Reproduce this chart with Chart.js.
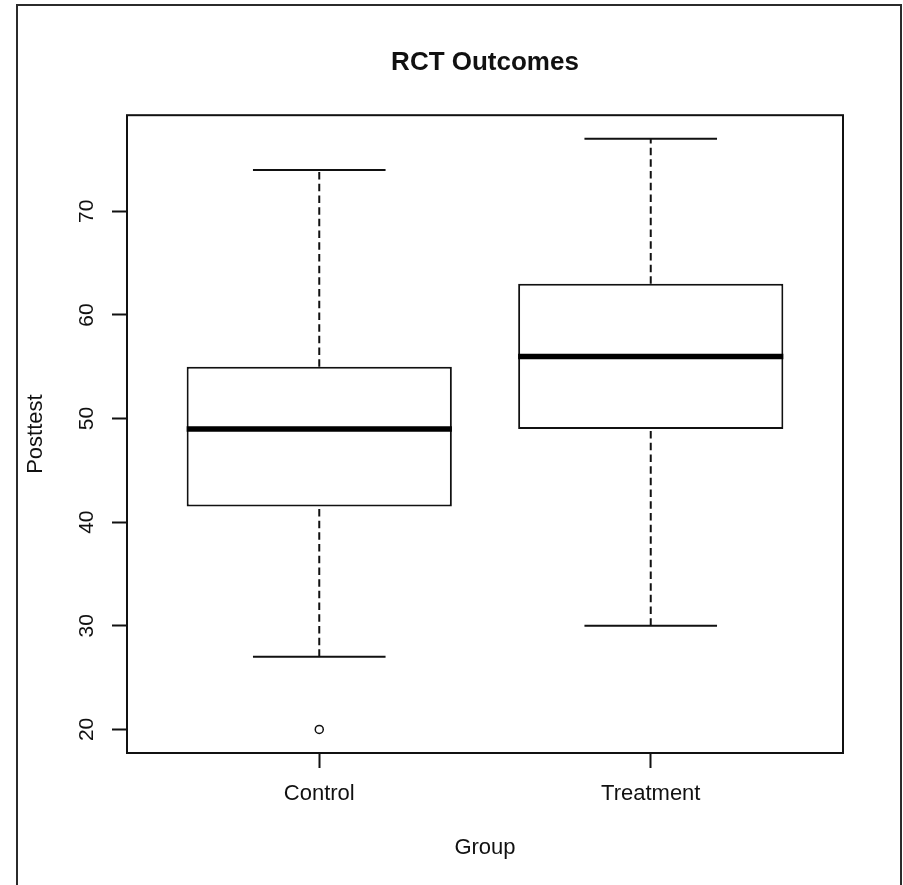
<!DOCTYPE html>
<html>
<head>
<meta charset="utf-8">
<title>RCT Outcomes</title>
<script src="https://cdn.jsdelivr.net/npm/chart.js@4/dist/chart.umd.min.js"></script>
<style>
  html, body { margin: 0; padding: 0; background: #fff; }
  #wrap { position: relative; width: 903px; height: 885px; overflow: hidden; }
  #frame { position: absolute; left: 16px; top: 4px; width: 886px; height: 900px;
           border: 2px solid #2b2b2b; box-sizing: border-box; }
  canvas { position: absolute; left: 0; top: 0; }
</style>
</head>
<body>
<div id="wrap">
  <div id="frame"></div>
  <canvas id="chart" width="903" height="885"></canvas>
</div>
<script>
// Five-number summaries per group (whisker ends, hinges, median) and outliers
const groups        = ['Control', 'Treatment'];
const lowerWhisker  = [27, 30];
const lowerHinge    = [41.5, 49];
const medians       = [49, 56];
const upperHinge    = [55, 63];
const upperWhisker  = [74, 77];
const outliers      = [[20], []];
const yTicks        = [20, 30, 40, 50, 60, 70];

// Box geometry in axis units (group i sits at x = i + 1)
const BOX_WIDTH = 0.8;
const STAPLE_WIDTH = 0.4;

// Axis limits: data range padded by 4% on each side
const allValues = [].concat(lowerWhisker, upperWhisker, ...outliers);
const dataLo = Math.min(...allValues), dataHi = Math.max(...allValues);
const yPad = 0.04 * (dataHi - dataLo);
const yMin = dataLo - yPad, yMax = dataHi + yPad;
const xPad = 0.04 * groups.length;
const xMin = 0.5 - xPad, xMax = groups.length + 0.5 + xPad;

const FONT = "'Liberation Sans', Arial, Helvetica, sans-serif";
const INK = '#111';
const GAP = (x) => ({ x: x, y: null });

const whiskerPts = [], staplePts = [], medianPts = [], outlierPts = [];
groups.forEach((g, i) => {
  const x = i + 1;
  whiskerPts.push({ x, y: upperHinge[i] }, { x, y: upperWhisker[i] }, GAP(x));
  whiskerPts.push({ x, y: lowerWhisker[i] }, { x, y: lowerHinge[i] }, GAP(x));
  staplePts.push({ x: x - STAPLE_WIDTH / 2, y: upperWhisker[i] }, { x: x + STAPLE_WIDTH / 2, y: upperWhisker[i] }, GAP(x));
  staplePts.push({ x: x - STAPLE_WIDTH / 2, y: lowerWhisker[i] }, { x: x + STAPLE_WIDTH / 2, y: lowerWhisker[i] }, GAP(x));
  medianPts.push({ x: x - BOX_WIDTH / 2, y: medians[i] }, { x: x + BOX_WIDTH / 2, y: medians[i] }, GAP(x));
  outliers[i].forEach(v => outlierPts.push({ x, y: v }));
});

// Closed frame around the plotting region
const plotFrame = {
  id: 'plotFrame',
  afterDatasetsDraw(chart) {
    const { ctx, chartArea: a } = chart;
    ctx.save();
    ctx.strokeStyle = INK;
    ctx.lineWidth = 2;
    ctx.strokeRect(a.left, a.top, a.right - a.left, a.bottom - a.top);
    ctx.restore();
  }
};

new Chart(document.getElementById('chart'), {
  type: 'scatter',
  data: {
    datasets: [
      {
        type: 'line', label: 'whiskers', data: whiskerPts,
        borderColor: INK, borderWidth: 2, borderDash: [7.5, 4.2],
        pointRadius: 0, spanGaps: false, tension: 0, order: 4
      },
      {
        type: 'bar', label: 'boxes',
        data: groups.map((g, i) => ({ x: i + 1, y: [lowerHinge[i], upperHinge[i]] })),
        backgroundColor: '#fff', borderColor: INK, borderWidth: 2, borderSkipped: false,
        barPercentage: BOX_WIDTH, categoryPercentage: 1, order: 3
      },
      {
        type: 'line', label: 'staples', data: staplePts,
        borderColor: INK, borderWidth: 2, pointRadius: 0, spanGaps: false, order: 2
      },
      {
        type: 'line', label: 'medians', data: medianPts,
        borderColor: '#000', borderWidth: 5.5, borderCapStyle: 'butt',
        pointRadius: 0, spanGaps: false, order: 1
      },
      {
        type: 'scatter', label: 'outliers', data: outlierPts,
        pointStyle: 'circle', pointRadius: 4, pointBorderWidth: 1.5,
        pointBackgroundColor: 'rgba(255,255,255,0)', pointBorderColor: INK,
        showLine: false, order: 0
      }
    ]
  },
  options: {
    responsive: false,
    animation: false,
    devicePixelRatio: 1,
    layout: { padding: { left: 0, right: 60, top: 0, bottom: 0 } },
    plugins: {
      legend: { display: false },
      tooltip: { enabled: false },
      title: {
        display: true, text: 'RCT Outcomes', fullSize: false, color: INK,
        font: { family: FONT, size: 26, weight: 'bold' },
        padding: { top: 47, bottom: 37 }
      }
    },
    scales: {
      x: {
        type: 'linear', min: xMin, max: xMax, offset: false,
        afterBuildTicks: s => { s.ticks = groups.map((g, i) => ({ value: i + 1 })); },
        afterFit: s => { s.height = 132; },
        grid: { display: true, offset: false, drawOnChartArea: false, drawTicks: true,
                tickLength: 15, tickColor: INK, tickWidth: 2, color: INK },
        border: { display: false },
        ticks: {
          autoSkip: false, minRotation: 0, maxRotation: 0, padding: 13, color: INK,
          font: { family: FONT, size: 22 },
          callback: v => groups[Math.round(v) - 1] || ''
        },
        title: { display: true, text: 'Group', color: INK,
                 font: { family: FONT, size: 22 }, padding: { top: 0, bottom: 24 } }
      },
      y: {
        type: 'linear', min: yMin, max: yMax,
        afterBuildTicks: s => { s.ticks = yTicks.map(v => ({ value: v })); },
        afterFit: s => { s.width = 127; },
        grid: { display: true, drawOnChartArea: false, drawTicks: true,
                tickLength: 15, tickColor: INK, tickWidth: 2, color: INK },
        border: { display: false },
        ticks: {
          minRotation: 90, maxRotation: 90, crossAlign: 'center', padding: 13, color: INK,
          font: { family: FONT, size: 21 },
          callback: v => String(v)
        },
        title: { display: true, text: 'Posttest', color: INK,
                 font: { family: FONT, size: 22 }, padding: { top: 23, bottom: 0 } }
      }
    }
  },
  plugins: [plotFrame]
});
</script>
</body>
</html>
